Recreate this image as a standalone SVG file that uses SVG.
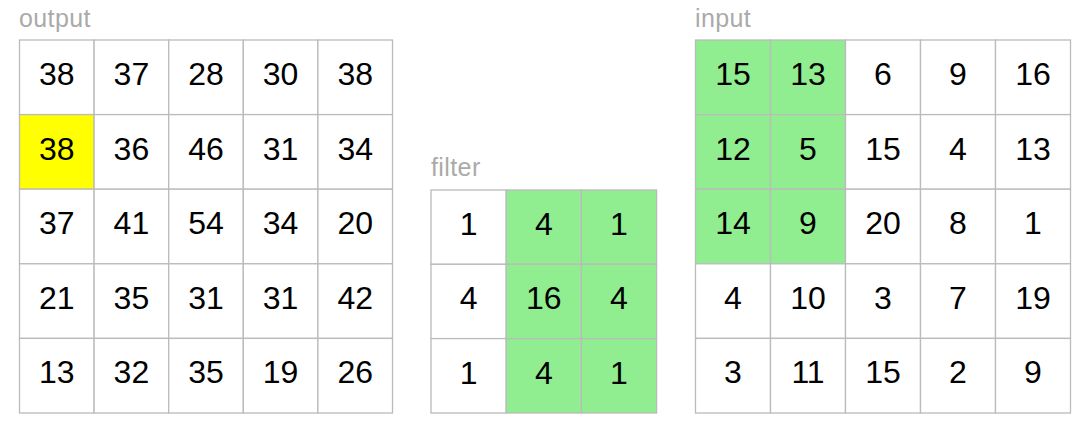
<svg xmlns="http://www.w3.org/2000/svg" width="1088" height="434" viewBox="0 0 1088 434">
<style>
rect{stroke:#bbbbbb;stroke-width:1.3;fill:#ffffff}
rect.g{fill:#90ee90}
rect.y{fill:#ffff00}
text{font-family:"Liberation Sans",Arial,Helvetica,sans-serif}
text.n{font-size:32px;fill:#000;text-anchor:middle}
text.l{font-size:25px;fill:#aaaaaa;letter-spacing:0.4px}
</style>
<rect x="0" y="0" width="1088" height="434" style="stroke:none;fill:#fff"/>
<g id="output">
<text class="l" x="19" y="27">output</text>
<rect x="19.5" y="40" width="74.6" height="74.6"/><rect x="94.1" y="40" width="74.6" height="74.6"/><rect x="168.7" y="40" width="74.6" height="74.6"/><rect x="243.3" y="40" width="74.6" height="74.6"/><rect x="317.9" y="40" width="74.6" height="74.6"/>
<rect class="y" x="19.5" y="114.6" width="74.6" height="74.6"/><rect x="94.1" y="114.6" width="74.6" height="74.6"/><rect x="168.7" y="114.6" width="74.6" height="74.6"/><rect x="243.3" y="114.6" width="74.6" height="74.6"/><rect x="317.9" y="114.6" width="74.6" height="74.6"/>
<rect x="19.5" y="189.2" width="74.6" height="74.6"/><rect x="94.1" y="189.2" width="74.6" height="74.6"/><rect x="168.7" y="189.2" width="74.6" height="74.6"/><rect x="243.3" y="189.2" width="74.6" height="74.6"/><rect x="317.9" y="189.2" width="74.6" height="74.6"/>
<rect x="19.5" y="263.8" width="74.6" height="74.6"/><rect x="94.1" y="263.8" width="74.6" height="74.6"/><rect x="168.7" y="263.8" width="74.6" height="74.6"/><rect x="243.3" y="263.8" width="74.6" height="74.6"/><rect x="317.9" y="263.8" width="74.6" height="74.6"/>
<rect x="19.5" y="338.4" width="74.6" height="74.6"/><rect x="94.1" y="338.4" width="74.6" height="74.6"/><rect x="168.7" y="338.4" width="74.6" height="74.6"/><rect x="243.3" y="338.4" width="74.6" height="74.6"/><rect x="317.9" y="338.4" width="74.6" height="74.6"/>
<text class="n" x="56.8" y="85">38</text><text class="n" x="131.4" y="85">37</text><text class="n" x="206" y="85">28</text><text class="n" x="280.6" y="85">30</text><text class="n" x="355.2" y="85">38</text>
<text class="n" x="56.8" y="159.6">38</text><text class="n" x="131.4" y="159.6">36</text><text class="n" x="206" y="159.6">46</text><text class="n" x="280.6" y="159.6">31</text><text class="n" x="355.2" y="159.6">34</text>
<text class="n" x="56.8" y="234.2">37</text><text class="n" x="131.4" y="234.2">41</text><text class="n" x="206" y="234.2">54</text><text class="n" x="280.6" y="234.2">34</text><text class="n" x="355.2" y="234.2">20</text>
<text class="n" x="56.8" y="308.8">21</text><text class="n" x="131.4" y="308.8">35</text><text class="n" x="206" y="308.8">31</text><text class="n" x="280.6" y="308.8">31</text><text class="n" x="355.2" y="308.8">42</text>
<text class="n" x="56.8" y="383.4">13</text><text class="n" x="131.4" y="383.4">32</text><text class="n" x="206" y="383.4">35</text><text class="n" x="280.6" y="383.4">19</text><text class="n" x="355.2" y="383.4">26</text>
</g>
<g id="filter">
<text class="l" x="431" y="176">filter</text>
<rect x="431" y="190" width="75.2" height="74.3"/><rect class="g" x="506.2" y="190" width="75.2" height="74.3"/><rect class="g" x="581.4" y="190" width="75.2" height="74.3"/>
<rect x="431" y="264.3" width="75.2" height="74.3"/><rect class="g" x="506.2" y="264.3" width="75.2" height="74.3"/><rect class="g" x="581.4" y="264.3" width="75.2" height="74.3"/>
<rect x="431" y="338.6" width="75.2" height="74.4"/><rect class="g" x="506.2" y="338.6" width="75.2" height="74.4"/><rect class="g" x="581.4" y="338.6" width="75.2" height="74.4"/>
<text class="n" x="468.6" y="235">1</text><text class="n" x="543.8" y="235">4</text><text class="n" x="619" y="235">1</text>
<text class="n" x="468.6" y="309.3">4</text><text class="n" x="543.8" y="309.3">16</text><text class="n" x="619" y="309.3">4</text>
<text class="n" x="468.6" y="383.6">1</text><text class="n" x="543.8" y="383.6">4</text><text class="n" x="619" y="383.6">1</text>
</g>
<g id="input">
<text class="l" x="695" y="27">input</text>
<rect class="g" x="695.5" y="40" width="75" height="74.6"/><rect class="g" x="770.5" y="40" width="75" height="74.6"/><rect x="845.5" y="40" width="75" height="74.6"/><rect x="920.5" y="40" width="75" height="74.6"/><rect x="995.5" y="40" width="75" height="74.6"/>
<rect class="g" x="695.5" y="114.6" width="75" height="74.6"/><rect class="g" x="770.5" y="114.6" width="75" height="74.6"/><rect x="845.5" y="114.6" width="75" height="74.6"/><rect x="920.5" y="114.6" width="75" height="74.6"/><rect x="995.5" y="114.6" width="75" height="74.6"/>
<rect class="g" x="695.5" y="189.2" width="75" height="74.6"/><rect class="g" x="770.5" y="189.2" width="75" height="74.6"/><rect x="845.5" y="189.2" width="75" height="74.6"/><rect x="920.5" y="189.2" width="75" height="74.6"/><rect x="995.5" y="189.2" width="75" height="74.6"/>
<rect x="695.5" y="263.8" width="75" height="74.6"/><rect x="770.5" y="263.8" width="75" height="74.6"/><rect x="845.5" y="263.8" width="75" height="74.6"/><rect x="920.5" y="263.8" width="75" height="74.6"/><rect x="995.5" y="263.8" width="75" height="74.6"/>
<rect x="695.5" y="338.4" width="75" height="74.6"/><rect x="770.5" y="338.4" width="75" height="74.6"/><rect x="845.5" y="338.4" width="75" height="74.6"/><rect x="920.5" y="338.4" width="75" height="74.6"/><rect x="995.5" y="338.4" width="75" height="74.6"/>
<text class="n" x="733" y="85">15</text><text class="n" x="808" y="85">13</text><text class="n" x="883" y="85">6</text><text class="n" x="958" y="85">9</text><text class="n" x="1033" y="85">16</text>
<text class="n" x="733" y="159.6">12</text><text class="n" x="808" y="159.6">5</text><text class="n" x="883" y="159.6">15</text><text class="n" x="958" y="159.6">4</text><text class="n" x="1033" y="159.6">13</text>
<text class="n" x="733" y="234.2">14</text><text class="n" x="808" y="234.2">9</text><text class="n" x="883" y="234.2">20</text><text class="n" x="958" y="234.2">8</text><text class="n" x="1033" y="234.2">1</text>
<text class="n" x="733" y="308.8">4</text><text class="n" x="808" y="308.8">10</text><text class="n" x="883" y="308.8">3</text><text class="n" x="958" y="308.8">7</text><text class="n" x="1033" y="308.8">19</text>
<text class="n" x="733" y="383.4">3</text><text class="n" x="808" y="383.4">11</text><text class="n" x="883" y="383.4">15</text><text class="n" x="958" y="383.4">2</text><text class="n" x="1033" y="383.4">9</text>
</g>
</svg>
